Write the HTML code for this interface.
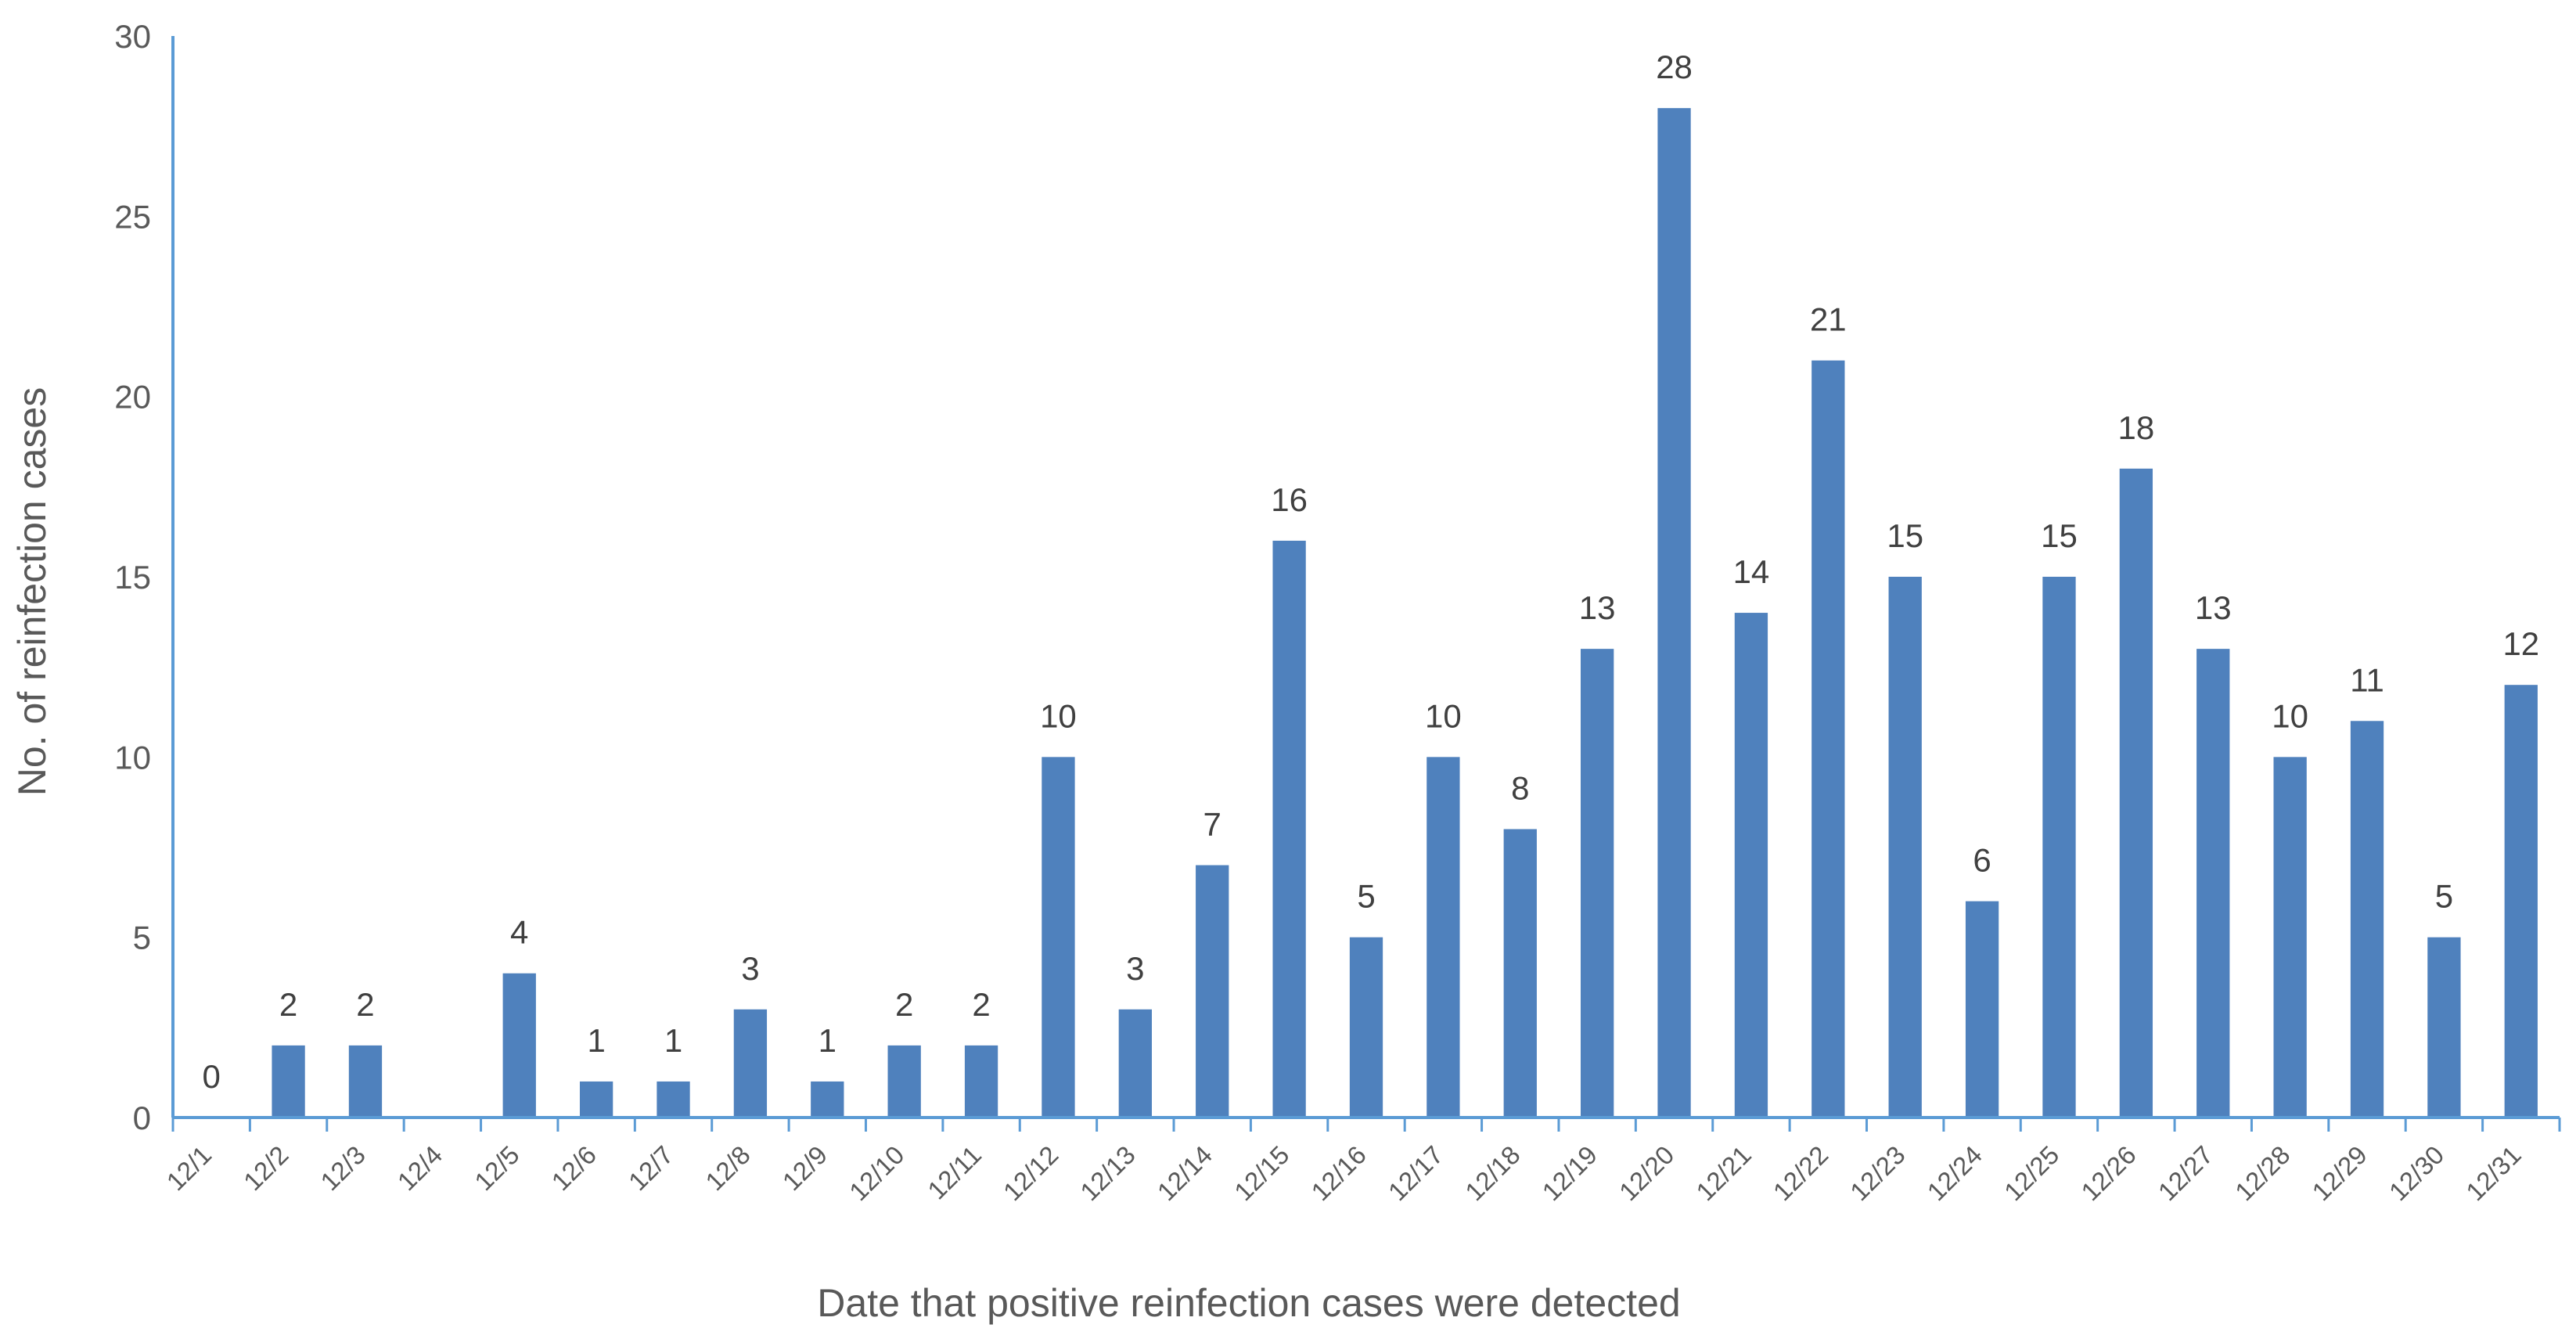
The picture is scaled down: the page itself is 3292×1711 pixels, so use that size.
<!DOCTYPE html>
<html><head><meta charset="utf-8">
<style>
html,body{margin:0;padding:0;background:#fff;}
svg{display:block;font-family:"Liberation Sans",sans-serif;}
</style></head>
<body>
<svg id="chart" width="3292" height="1711" viewBox="0 0 3292 1711" xmlns="http://www.w3.org/2000/svg">
<rect width="3292" height="1711" fill="#fff"/>
<text x="0" y="0" transform="translate(58,756) rotate(-90)" text-anchor="middle" font-size="50" fill="#595959">No. of reinfection cases</text>
<text x="1596" y="1682" text-anchor="middle" font-size="50" fill="#595959">Date that positive reinfection cases were detected</text>
<g id="plot"></g>
</svg>
<script>
const categories = ["12/1","12/2","12/3","12/4","12/5","12/6","12/7","12/8","12/9","12/10","12/11","12/12","12/13","12/14","12/15","12/16","12/17","12/18","12/19","12/20","12/21","12/22","12/23","12/24","12/25","12/26","12/27","12/28","12/29","12/30","12/31"];
const values = [0,2,2,null,4,1,1,3,1,2,2,10,3,7,16,5,10,8,13,28,14,21,15,6,15,18,13,10,11,5,12];
const yTicks = [0,5,10,15,20,25,30];

const NS = "http://www.w3.org/2000/svg";
const plot = document.getElementById("plot");
const x0 = 221, x1 = 3271, yBase = 1428, yTop = 46, yMax = 30;
const bw = (x1 - x0) / categories.length;
const xScale = i => x0 + bw * (i + 0.5);
const yScale = v => yBase - (v / yMax) * (yBase - yTop);
function mk(tag, attrs) { const e = document.createElementNS(NS, tag); for (const k in attrs) e.setAttribute(k, attrs[k]); plot.appendChild(e); return e; }

yTicks.forEach(t => {
  const e = mk("text", {x: 193, y: yScale(t) + 15, "text-anchor": "end", "font-size": 42, fill: "#595959"});
  e.textContent = t;
  
  
});

values.forEach((v, i) => {
  if (v === null) return;
  const cx = xScale(i), w = bw * 0.43;
  if (v > 0) {
    const r = mk("rect", {x: cx - w / 2, y: yScale(v), width: w, height: yBase - yScale(v), fill: "#4f81bd"});
    
    
  }
  const t = mk("text", {x: cx, y: yScale(v) - 38, "text-anchor": "middle", "font-size": 42, fill: "#404040"});
  t.textContent = v;
  
  
});

const ax = mk("line", {x1: x0, y1: yTop, x2: x0, y2: yBase, stroke: "#5b9bd5", "stroke-width": 4});


const bx = mk("line", {x1: x0, y1: yBase, x2: x1, y2: yBase, stroke: "#5b9bd5", "stroke-width": 4});



for (let i = 0; i <= categories.length; i++) {
  const tx = x0 + bw * i;
  const tk = mk("line", {x1: tx, y1: yBase, x2: tx, y2: yBase + 18, stroke: "#5b9bd5", "stroke-width": 3});
  
  
}

categories.forEach((c, i) => {
  const cx = xScale(i) + 2, cy = 1478;
  const t = mk("text", {x: cx, y: cy, "text-anchor": "end", "font-size": 33, fill: "#595959", transform: `rotate(-45 ${cx} ${cy})`});
  t.textContent = c;
  
  
});
</script>
</body></html>
